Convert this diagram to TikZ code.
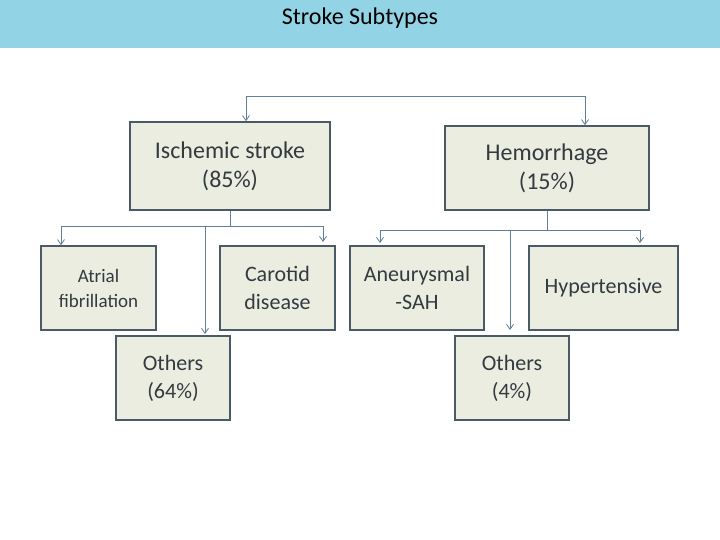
\documentclass[tikz,border=0pt]{standalone}
\usepackage{fontspec}
\setmainfont{Carlito}
\usetikzlibrary{arrows.meta}
\definecolor{hdr}{HTML}{93D3E6}
\definecolor{bx}{HTML}{EAEDE0}
\definecolor{bd}{HTML}{4A5A66}
\definecolor{ln}{HTML}{5F7F9A}
\definecolor{tx}{HTML}{333A40}
\begin{document}
\begin{tikzpicture}[x=1pt,y=-1pt,
 box/.style={draw=bd,line width=1.6pt,fill=bx,text=tx,align=center,inner sep=0pt},
 con/.style={draw=ln,line width=0.8pt},
 arr/.style={con,-{Straight Barb[length=5pt,width=7pt]}}]
\useasboundingbox (0,0) rectangle (720,540);
\fill[hdr] (0,0) rectangle (720,48);
\node[text=black,font=\fontsize{24}{28}\selectfont] (title) at (360,18) {Stroke Subtypes};
\node[box,minimum width=200pt,minimum height=88pt,font=\fontsize{24}{29}\selectfont] (isc) at (230,166) {Ischemic stroke\\(85\%)};
\node[box,minimum width=204pt,minimum height=84pt,font=\fontsize{24}{29}\selectfont] (hem) at (547,168) {Hemorrhage\\(15\%)};
\node[box,minimum width=115pt,minimum height=84pt,font=\fontsize{19}{25}\selectfont] (atr) at (98.5,288) {Atrial\\fibrillation};
\node[box,minimum width=115pt,minimum height=84pt,font=\fontsize{22}{28}\selectfont] (car) at (277.5,288) {Carotid\\disease};
\node[box,minimum width=114pt,minimum height=84pt,font=\fontsize{22}{28}\selectfont] (oth1) at (173,378) {Others\\(64\%)};
\node[box,minimum width=134pt,minimum height=84pt,font=\fontsize{22}{28}\selectfont] (ane) at (417,288) {Aneurysmal\\-SAH};
\node[box,minimum width=149pt,minimum height=84pt,font=\fontsize{22}{28}\selectfont] (hyp) at (603.5,288) {Hypertensive};
\node[box,minimum width=114pt,minimum height=84pt,font=\fontsize{22}{28}\selectfont] (oth2) at (512,378) {Others\\(4\%)};
% top bracket
\coordinate (tl) at (246,96); \coordinate (tr) at (585,96);
\draw[con] (tl) -- (tr);
\draw[arr] (tl) -- (isc.north -| tl);
\draw[arr] (tr) -- (hem.north -| tr);
% ischemic children
\coordinate (ib) at (230,226);
\coordinate (il) at (61,226); \coordinate (ir) at (323,226); \coordinate (im) at (205,226);
\draw[con] (isc.south) -- (ib);
\draw[con] (il) -- (ir);
\draw[arr] (il) -- (atr.north -| il);
\draw[arr] (ir) -- (323,242);
\draw[arr] (im) -- (205,334);
% hemorrhage children
\coordinate (hb) at (547,230);
\coordinate (hl) at (380,230); \coordinate (hr) at (640,230); \coordinate (hm) at (510,230);
\draw[con] (hem.south) -- (hb);
\draw[con] (hl) -- (hr);
\draw[arr] (hl) -- (380,243);
\draw[arr] (hr) -- (640,243);
\draw[arr] (hm) -- (510,330);
\end{tikzpicture}
\end{document}
